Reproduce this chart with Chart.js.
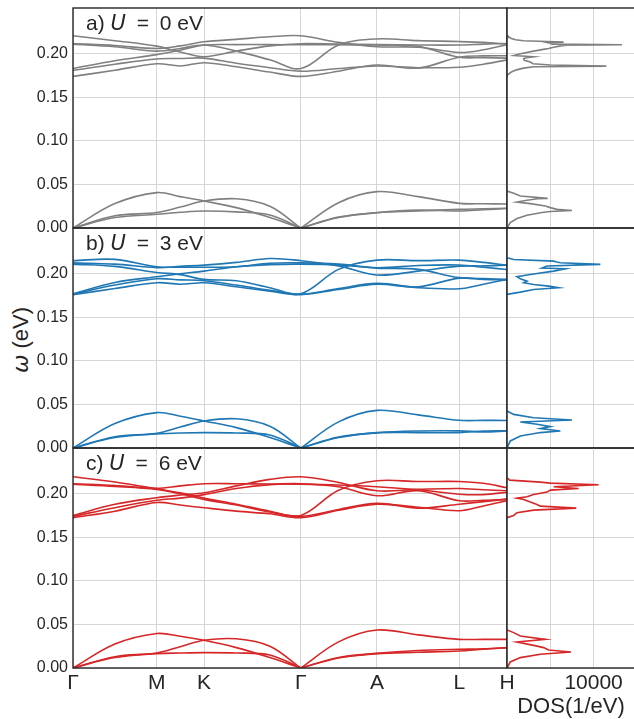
<!DOCTYPE html>
<html>
<head>
<meta charset="utf-8">
<script src="https://cdn.jsdelivr.net/npm/chart.js@4.4.1/dist/chart.umd.min.js"></script>
<style>
  html, body { margin: 0; padding: 0; background: #fff; }
  #fig { position: relative; width: 634px; height: 719px; overflow: hidden;
         font-family: "Liberation Sans", Arial, sans-serif; color: #262626; }
  #fig canvas { position: absolute; }
  .tag { position: absolute; left: 86px; font-size: 21px; line-height: 1; white-space: nowrap; }
  .tag .eq { margin: 0 5px; }
  .math { font-family: "DejaVu Sans", sans-serif; font-style: italic; }
  #ylab { position: absolute; left: 21px; top: 340px; font-size: 22px; white-space: nowrap;
          transform: translate(-50%, -50%) rotate(-90deg); }
</style>
</head>
<body>
<div id="fig">
  <div id="ylab"><span class="math">ω</span> (eV)</div>
</div>
<script>
// ====================================
// PHONON BANDS + DOS  (U = 0, 3, 6 eV)
// ====================================

// k-path sampling (units of |ΓM|)
const kGrid = [0, 0.5, 1.0, 1.28, 1.565, 1.95, 2.35, 2.72, 3.17, 3.628, 4.12, 4.611, 4.9, 5.181];
const kTicks = [0, 1.0, 1.565, 2.72, 3.628, 4.611, 5.181];
const kLabels = ['Γ', 'M', 'K', 'Γ', 'A', 'L', 'H'];
const omegaTicks = [0, 0.05, 0.10, 0.15, 0.20];
const dosTicks = [0, 5000, 10000];
const panelTags = ['a)', 'b)', 'c)'];
const uValues = [0, 3, 6];
const GAMMA_IDX = 7;

// ---- U = 0 eV ----
const opticalU0 = [
  [0.2206, 0.2150, 0.2087, 0.2020, 0.1966, 0.2030, 0.2090, 0.2115, 0.2110, 0.2105, 0.2100, 0.2100, 0.2110, 0.2118],
  [0.2118, 0.2095, 0.2060, 0.2090, 0.2137, 0.2165, 0.2195, 0.2206, 0.2130, 0.2080, 0.2075, 0.2015, 0.2045, 0.2105],
  [0.2110, 0.2080, 0.2030, 0.2060, 0.2100, 0.2030, 0.1930, 0.1830, 0.2100, 0.2170, 0.2150, 0.2140, 0.2130, 0.2110],
  [0.1830, 0.1920, 0.1990, 0.2040, 0.2100, 0.2105, 0.2105, 0.2103, 0.2105, 0.2100, 0.2085, 0.1960, 0.1955, 0.1950],
  [0.1810, 0.1880, 0.1940, 0.1945, 0.1950, 0.1890, 0.1840, 0.1800, 0.1830, 0.1860, 0.1840, 0.1845, 0.1880, 0.1930],
  [0.1740, 0.1810, 0.1885, 0.1860, 0.1897, 0.1850, 0.1790, 0.1740, 0.1800, 0.1870, 0.1835, 0.1960, 0.1975, 0.1977]
];
const acousticU0 = [
  [0, 0.0280, 0.0406, 0.0360, 0.0310, 0.0234, 0.0120, 0, 0.0290, 0.0417, 0.0360, 0.0283, 0.0278, 0.0275],
  [0, 0.0140, 0.0177, 0.0240, 0.0310, 0.0335, 0.0250, 0, 0.0125, 0.0177, 0.0195, 0.0214, 0.0220, 0.0226],
  [0, 0.0120, 0.0157, 0.0180, 0.0195, 0.0185, 0.0150, 0, 0.0120, 0.0175, 0.0205, 0.0195, 0.0210, 0.0224]
];
const dosOmegaU0 = [0.2215, 0.2200, 0.2175, 0.2160, 0.2149, 0.2140, 0.2133, 0.2128, 0.2120, 0.2110, 0.2103,
  0.2097, 0.2090, 0.2075, 0.2060, 0.2050, 0.2030, 0.2000, 0.1980, 0.1966, 0.1955, 0.1945, 0.1925, 0.1905,
  0.1885, 0.1870, 0.1858, 0.1850, 0.1835, 0.1815, 0.1790, 0.1760, 0.1745,
  0.0424, 0.0398, 0.0367, 0.0340, 0.0335, 0.0318, 0.0298, 0.0280, 0.0252, 0.0234, 0.0214, 0.0200,
  0.0190, 0.0177, 0.0146, 0.0108, 0.0062, 0];
const dosU0 = [0, 100, 500, 1000, 1900, 4620, 6540, 4620, 5000, 5200, 13280,
  6930, 6200, 5390, 4810, 4200, 3080, 1540, 800, 3080, 2310, 1920, 2000, 2690,
  3000, 5000, 11470, 3080, 1900, 1100, 500, 100, 0,
  0, 770, 1540, 4700, 3500, 2310, 1150, 2690, 4430, 5000, 5780, 7500,
  5000, 4040, 2310, 1150, 380, 0];

// ---- U = 3 eV ----
const opticalU3 = [
  [0.2150, 0.2165, 0.2080, 0.2075, 0.2075, 0.2080, 0.2120, 0.2125, 0.2110, 0.2069, 0.2095, 0.2100, 0.2075, 0.2049],
  [0.2125, 0.2110, 0.2070, 0.2085, 0.2099, 0.2130, 0.2175, 0.2150, 0.2090, 0.1985, 0.2030, 0.2087, 0.2090, 0.2099],
  [0.2110, 0.2085, 0.2015, 0.1990, 0.1935, 0.1920, 0.1840, 0.1770, 0.2050, 0.2156, 0.2150, 0.2156, 0.2130, 0.2099],
  [0.1770, 0.1900, 0.1966, 0.2000, 0.2030, 0.2080, 0.2105, 0.2110, 0.2100, 0.2065, 0.2050, 0.1955, 0.1945, 0.1935],
  [0.1766, 0.1870, 0.1943, 0.1930, 0.1920, 0.1870, 0.1810, 0.1766, 0.1830, 0.1889, 0.1840, 0.1828, 0.1880, 0.1935],
  [0.1760, 0.1830, 0.1897, 0.1880, 0.1897, 0.1850, 0.1800, 0.1760, 0.1820, 0.1880, 0.1850, 0.1950, 0.1935, 0.1930]
];
const acousticU3 = [
  [0, 0.0280, 0.0406, 0.0365, 0.0310, 0.0234, 0.0120, 0, 0.0300, 0.0432, 0.0380, 0.0318, 0.0317, 0.0316],
  [0, 0.0130, 0.0169, 0.0240, 0.0310, 0.0335, 0.0250, 0, 0.0125, 0.0176, 0.0195, 0.0197, 0.0185, 0.0195],
  [0, 0.0120, 0.0160, 0.0172, 0.0176, 0.0172, 0.0150, 0, 0.0120, 0.0174, 0.0176, 0.0176, 0.0195, 0.0198]
];
const dosOmegaU3 = [0.2183, 0.2164, 0.2145, 0.2134, 0.2126, 0.2107, 0.2088, 0.2065, 0.2057, 0.2030, 0.1992,
  0.1966, 0.1943, 0.1915, 0.1897, 0.1877, 0.1858, 0.1839, 0.1820, 0.1789, 0.1763,
  0.0424, 0.0386, 0.0348, 0.0321, 0.0298, 0.0272, 0.0245, 0.0222, 0.0195, 0.0177, 0.0138, 0.0081, 0];
const dosU3 = [0, 770, 5390, 5770, 6160, 10780, 4620, 4040, 6730, 5390, 2690,
  1150, 1540, 2310, 1920, 3080, 4810, 5960, 3080, 1540, 0,
  0, 770, 3080, 7510, 1540, 3460, 5000, 3850, 6160, 3850, 1540, 380, 0];

// ---- U = 6 eV ----
const opticalU6 = [
  [0.2195, 0.2135, 0.2057, 0.2010, 0.1950, 0.1880, 0.1800, 0.1751, 0.2040, 0.2149, 0.2140, 0.2141, 0.2120, 0.2069],
  [0.2115, 0.2095, 0.2062, 0.2090, 0.2115, 0.2115, 0.2112, 0.2110, 0.2100, 0.2080, 0.2045, 0.1995, 0.1990, 0.2018],
  [0.2110, 0.2085, 0.2050, 0.2000, 0.1935, 0.1870, 0.1790, 0.1740, 0.1820, 0.1889, 0.1835, 0.1880, 0.1910, 0.1938],
  [0.1751, 0.1880, 0.1954, 0.1985, 0.2011, 0.2090, 0.2165, 0.2195, 0.2130, 0.2034, 0.2050, 0.2060, 0.2045, 0.2035],
  [0.1740, 0.1840, 0.1925, 0.1950, 0.1990, 0.2060, 0.2105, 0.2115, 0.2080, 0.1977, 0.2035, 0.1920, 0.1925, 0.1935],
  [0.1725, 0.1800, 0.1900, 0.1870, 0.1839, 0.1800, 0.1770, 0.1725, 0.1810, 0.1880, 0.1845, 0.1805, 0.1860, 0.1920]
];
const acousticU6 = [
  [0, 0.0275, 0.0396, 0.0365, 0.0318, 0.0234, 0.0120, 0, 0.0300, 0.0436, 0.0380, 0.0329, 0.0329, 0.0329],
  [0, 0.0130, 0.0172, 0.0245, 0.0318, 0.0335, 0.0250, 0, 0.0120, 0.0168, 0.0200, 0.0215, 0.0220, 0.0234],
  [0, 0.0120, 0.0165, 0.0172, 0.0176, 0.0172, 0.0150, 0, 0.0115, 0.0165, 0.0180, 0.0195, 0.0215, 0.0232]
];
const dosOmegaU6 = [0.2183, 0.2156, 0.2133, 0.2122, 0.2103, 0.2080, 0.2061, 0.2042, 0.2019, 0.1992, 0.1966,
  0.1950, 0.1935, 0.1904, 0.1877, 0.1858, 0.1835, 0.1812, 0.1782, 0.1751, 0.1725,
  0.0436, 0.0406, 0.0367, 0.0329, 0.0298, 0.0260, 0.0234, 0.0206, 0.0183, 0.0157, 0.0119, 0.0069, 0];
const dosU6 = [0, 310, 3850, 5000, 10580, 5390, 8270, 5000, 4620, 3080, 2310,
  1150, 1920, 2690, 3460, 3850, 8000, 3080, 1150, 770, 0,
  0, 770, 1540, 4430, 1150, 3080, 4230, 4810, 7390, 3850, 1540, 380, 0];

const rowColors = ['#808080', '#1f77b4', '#d62728'];
const rowOptical = [opticalU0, opticalU3, opticalU6];
const rowAcoustic = [acousticU0, acousticU3, acousticU6];
const rowDosOmega = [dosOmegaU0, dosOmegaU3, dosOmegaU6];
const rowDos = [dosU0, dosU3, dosU6];

// ---- layout ----
const ROW_TOP = 8, ROW_H = 220, PAD = 10;
const BAND_LEFT = 73, BAND_RIGHT = 507, DOS_RIGHT = 635;
const X_AXIS_H = 52;
const Y_MAX = 0.2525;
const DOS_MAX = 14780;
const GRID = '#d6d6d6';
const INK = '#262626';

Chart.defaults.font.family = '"Liberation Sans", Arial, sans-serif';
Chart.defaults.color = INK;

const framePlugin = {
  id: 'frame',
  afterDraw(chart) {
    const a = chart.chartArea, ctx = chart.ctx;
    ctx.save();
    ctx.strokeStyle = INK;
    ctx.lineWidth = 1.4;
    ctx.strokeRect(a.left, a.top, a.right - a.left, a.bottom - a.top);
    ctx.restore();
  }
};

function addCanvas(left, top, w, h) {
  const c = document.createElement('canvas');
  c.width = w; c.height = h;
  c.style.left = left + 'px'; c.style.top = top + 'px';
  c.style.width = w + 'px'; c.style.height = h + 'px';
  document.getElementById('fig').appendChild(c);
  return c.getContext('2d');
}

function bandPoints(vals, kinkAtGamma) {
  const pts = [];
  vals.forEach((v, i) => {
    pts.push({ x: kGrid[i], y: v });
    if (kinkAtGamma && i === GAMMA_IDX) {
      pts.push({ x: kGrid[i], y: null });
      pts.push({ x: kGrid[i], y: v });
    }
  });
  return pts;
}

// DOS curve, broken in the phonon gap so no line runs along the spine
function dosPoints(omega, dos) {
  const pts = [];
  omega.forEach((o, i) => {
    if (i > 0 && omega[i - 1] > 0.1 && o < 0.1) pts.push({ x: 0, y: null });
    pts.push({ x: dos[i], y: o });
  });
  return pts;
}

function yScale(showLabels, width) {
  return {
    min: 0, max: Y_MAX,
    afterBuildTicks: s => { s.ticks = omegaTicks.map(v => ({ value: v })); },
    afterFit: s => { s.width = width; s.paddingTop = 0; s.paddingBottom = 0; },
    grid: { color: GRID, lineWidth: 1, drawTicks: false },
    border: { display: false },
    ticks: { display: showLabels, padding: 5, font: { size: 16 }, color: INK,
             callback: v => v.toFixed(2) }
  };
}

function baseOptions() {
  return {
    responsive: false,
    animation: false,
    events: [],
    plugins: { legend: { display: false }, tooltip: { enabled: false } },
    elements: { point: { radius: 0 } }
  };
}

function initBandChart(row) {
  const last = row === 2;
  const xh = last ? X_AXIS_H : 0;
  const w = BAND_RIGHT + 13;
  const h = PAD + ROW_H + xh + (last ? 0 : PAD);
  const ctx = addCanvas(0, ROW_TOP + row * ROW_H - PAD, w, h);
  const color = rowColors[row];

  const datasets = [];
  rowOptical[row].forEach(b => datasets.push({
    data: bandPoints(b, false), borderColor: color, borderWidth: 1.6, tension: 0.35, fill: false
  }));
  rowAcoustic[row].forEach(b => datasets.push({
    data: bandPoints(b, true), borderColor: color, borderWidth: 1.6, tension: 0.35, fill: false
  }));

  const opts = baseOptions();
  opts.layout = { padding: { top: PAD, bottom: last ? 0 : PAD, left: 0, right: 13 } };
  opts.scales = {
    x: {
      type: 'linear', min: 0, max: kTicks[kTicks.length - 1],
      afterBuildTicks: s => { s.ticks = kTicks.map(v => ({ value: v })); },
      afterFit: s => { s.height = xh; s.paddingLeft = 0; s.paddingRight = 0; },
      grid: { color: GRID, lineWidth: 1, drawTicks: false },
      border: { display: false },
      ticks: { display: last, padding: 3, autoSkip: false, maxRotation: 0,
               font: { size: 21 }, color: INK, callback: (v, i) => kLabels[i] }
    },
    y: yScale(true, BAND_LEFT)
  };
  return new Chart(ctx, { type: 'line', data: { datasets }, options: opts, plugins: [framePlugin] });
}

function initDosChart(row) {
  const last = row === 2;
  const xh = last ? X_AXIS_H : 0;
  const left = BAND_RIGHT - 10;
  const w = 10 + (DOS_RIGHT - BAND_RIGHT) + 10;
  const h = PAD + ROW_H + xh + (last ? 0 : PAD);
  const ctx = addCanvas(left, ROW_TOP + row * ROW_H - PAD, w, h);

  const opts = baseOptions();
  opts.layout = { padding: { top: PAD, bottom: last ? 0 : PAD, left: 10, right: 10 } };
  opts.scales = {
    x: {
      type: 'linear', min: 0, max: DOS_MAX,
      afterBuildTicks: s => { s.ticks = dosTicks.map(v => ({ value: v })); },
      afterFit: s => { s.height = xh; s.paddingLeft = 0; s.paddingRight = 0; },
      grid: { color: GRID, lineWidth: 1, drawTicks: false },
      border: { display: false },
      ticks: { display: last, padding: 3, autoSkip: false, maxRotation: 0,
               font: { size: 21 }, color: INK, callback: v => (v === 10000 ? '10000' : '') },
      title: { display: last, text: 'DOS(1/eV)', font: { size: 22 }, color: INK,
               padding: { top: 0, bottom: 0 } }
    },
    y: yScale(false, 0)
  };
  return new Chart(ctx, {
    type: 'line',
    data: { datasets: [{
      data: dosPoints(rowDosOmega[row], rowDos[row]),
      borderColor: rowColors[row], borderWidth: 1.6, tension: 0, fill: false
    }] },
    options: opts,
    plugins: [framePlugin]
  });
}

function addTag(row) {
  const d = document.createElement('div');
  d.className = 'tag';
  d.style.top = (ROW_TOP + row * ROW_H + 3.5) + 'px';
  d.innerHTML = panelTags[row] + ' <span class="math">U</span><span class="eq"> = </span>' +
    uValues[row] + ' eV';
  document.getElementById('fig').appendChild(d);
}

for (let r = 0; r < 3; r++) {
  initBandChart(r);
  initDosChart(r);
  addTag(r);
}
</script>
</body>
</html>
